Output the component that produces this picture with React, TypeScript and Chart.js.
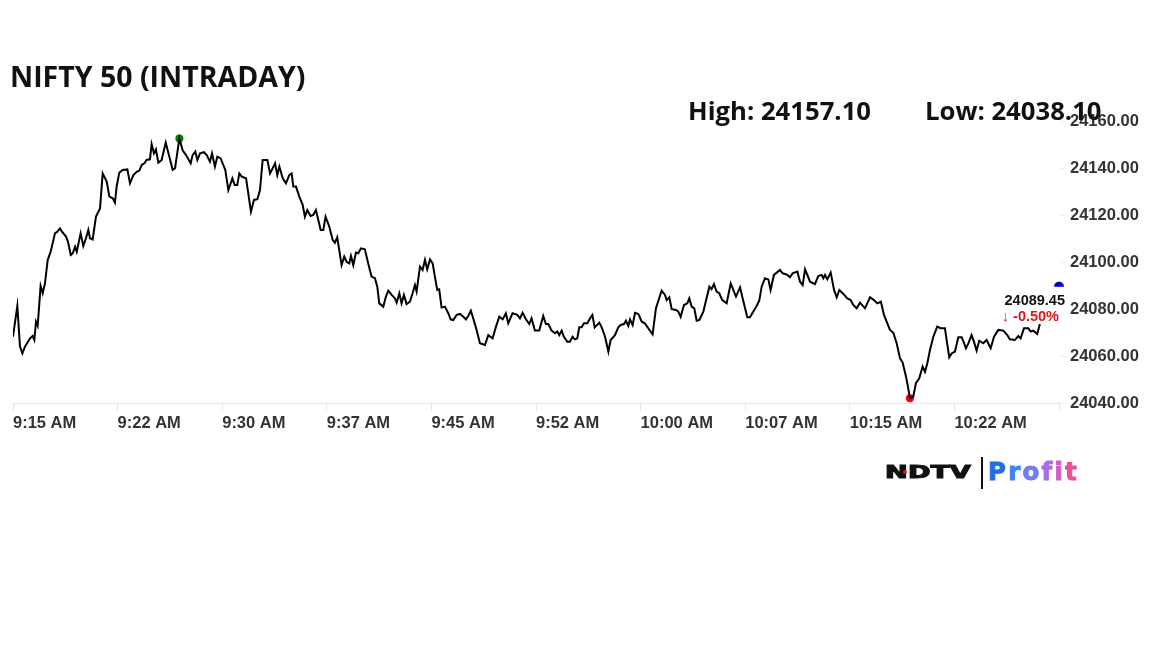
import React, { useEffect, useRef } from "react";
import { Chart, registerables } from "chart.js";

Chart.register(...registerables);

// ---------- data ----------
const TITLE = "NIFTY 50 (INTRADAY)";
const HIGH_LABEL = "High: 24157.10";
const LOW_LABEL = "Low: 24038.10";
const LAST_PRICE = 24089.45;
const CHANGE_PCT = -0.5;
const SESSION_MINUTES = 75; // 9:15 -> 10:30
const TICK_STEP = 7.5;

const tickLabels = [
  "9:15 AM", "9:22 AM", "9:30 AM", "9:37 AM", "9:45 AM", "9:52 AM",
  "10:00 AM", "10:07 AM", "10:15 AM", "10:22 AM", "",
];
const yMin = 24040;
const yMax = 24160;
const yStep = 20;

// minutes elapsed since 9:15 AM
const minutes = [
  0.00, 0.31, 0.50, 0.67, 0.86, 1.22, 1.41, 1.53, 1.65, 1.77, 1.98, 2.13, 2.29, 2.49, 2.70,
  3.01, 3.18, 3.37, 3.51, 3.80, 3.94, 4.14, 4.28, 4.45, 4.57, 4.85, 5.04, 5.23, 5.40, 5.52,
  5.71, 5.95, 6.24, 6.43, 6.72, 6.91, 7.15, 7.31, 7.43, 7.62, 7.86, 8.20, 8.39, 8.63, 8.87,
  9.06, 9.23, 9.42, 9.58, 9.82, 9.94, 10.11, 10.25, 10.42, 10.66, 10.95, 11.21, 11.45, 11.62, 11.93,
  12.17, 12.41, 12.74, 12.88, 13.07, 13.22, 13.41, 13.69, 13.89, 14.12, 14.27, 14.48, 14.65, 14.89, 15.03,
  15.22, 15.44, 15.73, 15.89, 16.08, 16.23, 16.40, 16.71, 16.87, 17.06, 17.28, 17.52, 17.71, 17.90, 18.24,
  18.43, 18.62, 18.79, 18.95, 19.10, 19.34, 19.57, 19.81, 19.98, 20.10, 20.29, 20.53, 20.77, 20.93, 21.10,
  21.34, 21.53, 21.72, 21.89, 22.06, 22.25, 22.41, 22.68, 22.92, 23.08, 23.25, 23.56, 23.75, 23.92, 24.11,
  24.23, 24.40, 24.59, 24.76, 24.95, 25.23, 25.47, 25.71, 25.95, 26.12, 26.26, 26.55, 26.74, 26.91, 27.15,
  27.39, 27.51, 27.70, 27.86, 28.03, 28.22, 28.46, 28.65, 28.82, 28.94, 29.18, 29.37, 29.54, 29.70, 29.90,
  30.09, 30.25, 30.42, 30.56, 30.73, 30.97, 31.21, 31.38, 31.57, 31.81, 32.05, 32.29, 32.48, 32.64, 32.83,
  33.00, 33.24, 33.48, 33.84, 34.08, 34.39, 34.63, 34.87, 35.11, 35.34, 35.51, 35.82, 36.16, 36.35, 36.54,
  36.78, 37.02, 37.18, 37.42, 37.73, 38.02, 38.21, 38.38, 38.62, 38.86, 39.02, 39.17, 39.34, 39.50, 39.74,
  39.93, 40.12, 40.29, 40.46, 40.60, 40.77, 40.94, 41.18, 41.42, 41.54, 41.71, 42.04, 42.21, 42.45, 42.69,
  42.85, 43.16, 43.40, 43.57, 43.81, 43.95, 44.12, 44.24, 44.43, 44.60, 44.84, 45.08, 45.31, 45.55, 45.86,
  46.10, 46.51, 46.75, 46.87, 47.06, 47.23, 47.54, 47.70, 47.87, 48.11, 48.35, 48.49, 48.66, 48.85, 49.02,
  49.21, 49.50, 49.93, 50.09, 50.26, 50.45, 50.64, 50.86, 51.17, 51.46, 51.84, 52.13, 52.32, 52.65, 52.84,
  53.03, 53.32, 53.51, 53.68, 53.92, 54.16, 54.32, 54.56, 54.99, 55.19, 55.35, 55.52, 55.71, 55.90, 56.24,
  56.43, 56.62, 56.79, 57.15, 57.50, 57.74, 57.98, 58.10, 58.22, 58.39, 58.63, 58.87, 59.06, 59.25, 59.54,
  59.82, 60.06, 60.25, 60.49, 60.73, 61.09, 61.45, 61.73, 61.97, 62.23, 62.45, 62.64, 62.88, 63.12, 63.36,
  63.60, 63.79, 64.03, 64.19, 64.31, 64.55, 64.74, 64.98, 65.22, 65.39, 65.56, 65.75, 65.99, 66.27, 66.51,
  66.82, 67.13, 67.30, 67.54, 67.78, 68.02, 68.18, 68.33, 68.50, 68.73, 68.90, 69.09, 69.28, 69.57, 69.81,
  70.10, 70.34, 70.65, 71.01, 71.29, 71.48, 71.84, 72.08, 72.25, 72.49, 72.80, 72.97, 73.16, 73.44, 73.63,
];

const prices = [
  24068.2, 24081.3, 24064.0, 24061.1, 24064.0, 24067.5, 24068.5, 24066.8, 24074.6, 24072.8, 24089.8, 24086.7, 24090.9, 24100.9, 24104.4,
  24112.2, 24112.9, 24114.3, 24112.9, 24110.8, 24108.7, 24103.0, 24103.7, 24106.5, 24104.4, 24112.2, 24106.8, 24110.1, 24113.6, 24110.1,
  24109.6, 24119.3, 24122.8, 24137.7, 24134.2, 24127.8, 24127.1, 24125.3, 24132.1, 24138.0, 24139.2, 24139.4, 24133.5, 24137.0, 24138.4,
  24138.9, 24141.3, 24142.0, 24143.4, 24143.7, 24150.2, 24146.2, 24147.9, 24142.3, 24143.4, 24150.8, 24144.8, 24139.2, 24139.9, 24152.6,
  24147.4, 24145.5, 24142.0, 24145.5, 24147.0, 24143.4, 24146.2, 24146.7, 24145.5, 24142.7, 24146.2, 24140.6, 24144.8, 24144.1, 24142.0,
  24139.2, 24130.6, 24135.6, 24132.8, 24132.8, 24137.7, 24136.3, 24135.6, 24129.2, 24121.4, 24126.4, 24126.7, 24130.6, 24143.4, 24143.4,
  24137.7, 24139.9, 24142.0, 24137.0, 24140.6, 24135.6, 24133.5, 24137.0, 24137.7, 24132.1, 24132.1, 24127.8, 24124.3, 24119.3, 24122.1,
  24119.6, 24120.0, 24122.1, 24117.9, 24113.6, 24113.6, 24119.3, 24115.0, 24109.4, 24108.2, 24110.5, 24098.7, 24102.3, 24100.1, 24099.4,
  24102.6, 24098.7, 24104.0, 24103.7, 24105.8, 24105.4, 24099.4, 24093.8, 24093.1, 24089.5, 24082.4, 24081.0, 24085.3, 24087.8, 24086.0,
  24084.5, 24082.7, 24086.7, 24082.4, 24086.0, 24082.1, 24083.1, 24086.7, 24090.2, 24087.4, 24098.0, 24096.6, 24100.9, 24096.9, 24101.1,
  24099.4, 24093.8, 24088.1, 24088.4, 24080.6, 24081.0, 24078.2, 24075.6, 24075.3, 24077.5, 24077.9, 24076.7, 24075.6, 24077.0, 24079.3,
  24076.0, 24071.1, 24065.4, 24064.7, 24068.9, 24067.5, 24072.5, 24076.7, 24075.6, 24078.2, 24073.9, 24078.2, 24077.5, 24076.0, 24078.4,
  24075.6, 24073.6, 24076.0, 24070.8, 24070.8, 24077.0, 24073.6, 24073.6, 24070.8, 24069.7, 24070.4, 24068.9, 24070.8, 24068.2, 24066.1,
  24066.1, 24068.2, 24067.1, 24067.5, 24072.2, 24072.2, 24073.9, 24073.9, 24076.5, 24077.5, 24072.2, 24074.2, 24072.2, 24068.2, 24061.9,
  24066.8, 24068.9, 24072.2, 24073.2, 24073.6, 24075.0, 24072.8, 24075.6, 24073.2, 24078.4, 24077.9, 24074.6, 24073.9, 24071.8, 24069.2,
  24080.3, 24087.8, 24086.0, 24083.8, 24085.0, 24079.9, 24079.6, 24078.9, 24076.7, 24081.7, 24082.4, 24084.5, 24081.0, 24080.3, 24075.0,
  24075.3, 24078.9, 24089.5, 24088.4, 24090.6, 24087.4, 24086.7, 24083.8, 24082.4, 24090.9, 24085.3, 24089.2, 24084.5, 24076.5, 24076.5,
  24078.4, 24081.3, 24083.6, 24089.5, 24093.1, 24092.6, 24088.1, 24094.5, 24096.6, 24095.2, 24094.9, 24094.5, 24093.5, 24095.2, 24095.9,
  24091.6, 24090.2, 24096.9, 24091.6, 24090.6, 24094.0, 24094.5, 24093.1, 24094.5, 24092.6, 24095.5, 24088.1, 24085.0, 24088.1, 24086.4,
  24084.5, 24083.8, 24081.7, 24080.3, 24082.7, 24080.3, 24085.0, 24083.8, 24082.4, 24083.1, 24077.5, 24074.6, 24071.1, 24069.9, 24065.4,
  24059.0, 24057.2, 24051.2, 24046.3, 24042.0, 24042.7, 24048.4, 24050.5, 24055.5, 24053.3, 24056.9, 24062.6, 24068.2, 24072.5, 24071.8,
  24071.8, 24059.4, 24061.1, 24061.9, 24068.0, 24068.0, 24065.7, 24063.3, 24065.4, 24068.9, 24066.1, 24062.3, 24066.5, 24065.4, 24066.8,
  24063.3, 24068.2, 24071.1, 24070.8, 24068.9, 24067.1, 24066.8, 24068.5, 24067.5, 24071.8, 24071.8, 24070.4, 24070.8, 24069.4, 24073.6,
];

// ---------- styling ----------
const AXIS_FONT = "'Liberation Sans', Arial, Helvetica, sans-serif";
const AXIS_COLOR = "#333333";
const RULE_COLOR = "#e4e4e4";

const PROFIT_LETTERS = ["P", "r", "o", "f", "i", "t"];
const PROFIT_COLORS = ["#1f6fe3", "#3a86f2", "#6f7df2", "#a66ceb", "#d65bc8", "#ee4f96"];

const lastPricePlugin = {
  id: "lastPriceLabel",
  afterDatasetsDraw(chart: any) {
    const meta = chart.getDatasetMeta(3);
    const pt = meta && meta.data[0];
    if (!pt) return;
    const x = pt.x;
    const y = pt.y;
    const ctx = chart.ctx;
    ctx.save();
    ctx.fillStyle = "#ffffff";
    ctx.fillRect(x - 64, y, 74, 34);
    ctx.textAlign = "right";
    ctx.textBaseline = "middle";
    ctx.font = `bold 14.5px ${AXIS_FONT}`;
    ctx.fillStyle = "#111111";
    ctx.fillText(LAST_PRICE.toFixed(2), x + 6, y + 14);
    ctx.fillStyle = "#e3141b";
    ctx.fillText(`\u2193 ${CHANGE_PCT.toFixed(2)}%`, x, y + 30);
    ctx.restore();
  },
};

export default function App() {
  const ref = useRef<HTMLCanvasElement>(null);

  useEffect(() => {
    if (!ref.current) return;
    const points = minutes.map((m, i) => ({ x: m, y: prices[i] }));
    let hi = 0;
    let lo = 0;
    prices.forEach((p, i) => {
      if (p > prices[hi]) hi = i;
      if (p < prices[lo]) lo = i;
    });

    const chart = new Chart(ref.current, {
      type: "line",
      data: {
        datasets: [
          {
            data: points,
            borderColor: "#000000",
            borderWidth: 2,
            pointRadius: 0,
            tension: 0,
            fill: false,
          },
          {
            data: [points[hi]],
            showLine: false,
            pointRadius: 4,
            pointBorderWidth: 0,
            pointBackgroundColor: "#008000",
            clip: false,
          } as any,
          {
            data: [points[lo]],
            showLine: false,
            pointRadius: 4,
            pointBorderWidth: 0,
            pointBackgroundColor: "#ff0000",
            clip: false,
          } as any,
          {
            data: [{ x: SESSION_MINUTES, y: LAST_PRICE }],
            showLine: false,
            pointRadius: 5,
            pointBorderWidth: 0,
            pointBackgroundColor: "#0000cc",
            clip: false,
          } as any,
        ],
      },
      options: {
        responsive: false,
        animation: false,
        devicePixelRatio: 1,
        events: [],
        layout: { padding: { left: 13, top: 121, right: 13, bottom: 205 } },
        plugins: {
          legend: { display: false },
          tooltip: { enabled: false },
        },
        scales: {
          x: {
            type: "linear",
            position: "bottom",
            min: 0,
            max: SESSION_MINUTES,
            afterBuildTicks: (axis: any) => {
              axis.ticks = tickLabels.map((_, i) => ({ value: i * TICK_STEP }));
            },
            afterFit: (axis: any) => {
              axis.height = 40;
            },
            ticks: {
              autoSkip: false,
              maxRotation: 0,
              minRotation: 0,
              align: "start",
              padding: 3,
              color: AXIS_COLOR,
              font: { family: AXIS_FONT, size: 16.5, weight: "bold" },
              callback: (v: any) => tickLabels[Math.round(Number(v) / TICK_STEP)] ?? "",
            },
            grid: { drawOnChartArea: false, color: RULE_COLOR, tickLength: 8 },
            border: { color: RULE_COLOR },
          },
          y: {
            type: "linear",
            position: "right",
            min: yMin,
            max: yMax,
            afterFit: (axis: any) => {
              axis.width = 80;
            },
            ticks: {
              stepSize: yStep,
              padding: 3,
              color: AXIS_COLOR,
              font: { family: AXIS_FONT, size: 16.5, weight: "bold" },
              callback: (v: any) => Number(v).toFixed(2),
            },
            grid: { drawOnChartArea: false, color: "#f0f0f0", tickLength: 8 },
            border: { display: false },
          },
        },
      } as any,
      plugins: [lastPricePlugin],
    });
    return () => chart.destroy();
  }, []);

  const headFont = "'Open Sans', 'Noto Sans', sans-serif";
  const logoFont = "'DejaVu Sans', Verdana, sans-serif";

  return (
    <div
      style={{
        position: "fixed",
        left: 0,
        top: 0,
        width: 1152,
        height: 648,
        background: "#ffffff",
        overflow: "hidden",
      }}
    >
      <canvas
        ref={ref}
        width={1152}
        height={648}
        style={{ position: "absolute", left: 0, top: 0, width: 1152, height: 648 }}
      />
      <div
        style={{
          position: "absolute",
          left: 10,
          top: 61.7,
          fontFamily: headFont,
          fontWeight: 700,
          fontSize: 28.5,
          lineHeight: "28.5px",
          color: "#111",
          whiteSpace: "nowrap",
        }}
      >
        {TITLE}
      </div>
      <div
        style={{
          position: "absolute",
          left: 688,
          top: 98.4,
          fontFamily: headFont,
          fontWeight: 700,
          fontSize: 25.7,
          lineHeight: "25.7px",
          color: "#111",
          whiteSpace: "nowrap",
        }}
      >
        {HIGH_LABEL}
      </div>
      <div
        style={{
          position: "absolute",
          left: 925,
          top: 98.4,
          fontFamily: headFont,
          fontWeight: 700,
          fontSize: 25.7,
          lineHeight: "25.7px",
          color: "#111",
          whiteSpace: "nowrap",
        }}
      >
        {LOW_LABEL}
      </div>
      {/* logo */}
      <div
        style={{
          position: "absolute",
          left: 885,
          top: 464.2,
          fontFamily: logoFont,
          fontWeight: 700,
          fontSize: 17.5,
          lineHeight: "17.5px",
          letterSpacing: 0.2,
          color: "#111",
          whiteSpace: "nowrap",
          transform: "scaleX(1.55)",
          transformOrigin: "left center",
          WebkitTextStroke: "1.1px #111",
        }}
      >
        NDTV
      </div>
      <div
        style={{
          position: "absolute",
          left: 903,
          top: 470,
          width: 4,
          height: 4,
          borderRadius: 2,
          background: "#e0161e",
        }}
      />
      <div
        style={{
          position: "absolute",
          left: 981,
          top: 457,
          width: 2,
          height: 32,
          background: "#111",
        }}
      />
      <div
        style={{
          position: "absolute",
          left: 988,
          top: 459.5,
          fontFamily: logoFont,
          fontWeight: 700,
          fontSize: 24.5,
          lineHeight: "24.5px",
          letterSpacing: 2.2,
          whiteSpace: "nowrap",
        }}
      >
        {PROFIT_LETTERS.map((ch, i) => (
          <span
            key={i}
            style={{ color: PROFIT_COLORS[i], WebkitTextStroke: `0.9px ${PROFIT_COLORS[i]}` }}
          >
            {ch}
          </span>
        ))}
      </div>
    </div>
  );
}
